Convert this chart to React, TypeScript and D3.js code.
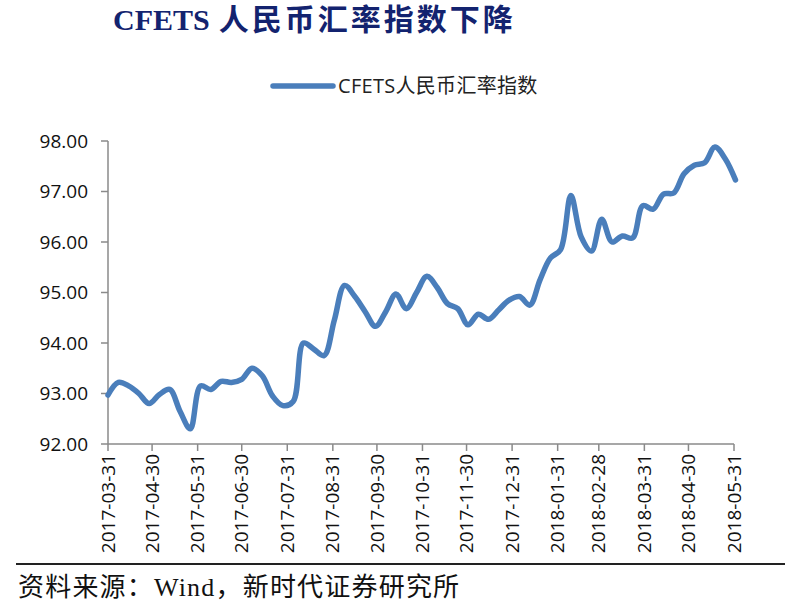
import * as d3 from 'd3'

// weekly CFETS RMB index (Fridays)
const dates2017 = [
  '2017-03-31', '2017-04-07', '2017-04-14', '2017-04-21', '2017-04-28',
  '2017-05-05', '2017-05-12', '2017-05-19', '2017-05-26', '2017-06-02',
  '2017-06-09', '2017-06-16', '2017-06-23', '2017-06-30', '2017-07-07',
  '2017-07-14', '2017-07-21', '2017-07-28', '2017-08-04', '2017-08-11',
  '2017-08-18', '2017-08-25', '2017-09-01', '2017-09-08', '2017-09-15',
  '2017-09-22', '2017-09-29', '2017-10-06', '2017-10-13', '2017-10-20',
  '2017-10-27', '2017-11-03', '2017-11-10', '2017-11-17', '2017-11-24',
  '2017-12-01', '2017-12-08', '2017-12-15', '2017-12-22', '2017-12-29',
]
const dates2018 = [
  '2018-01-05', '2018-01-12', '2018-01-19', '2018-01-26', '2018-02-02',
  '2018-02-09', '2018-02-16', '2018-02-23', '2018-03-02', '2018-03-09',
  '2018-03-16', '2018-03-23', '2018-03-30', '2018-04-06', '2018-04-13',
  '2018-04-20', '2018-04-27', '2018-05-04', '2018-05-11', '2018-05-18',
  '2018-05-25', '2018-06-01',
]
const cfetsValues = [
  92.97, 93.22, 93.15, 93.0, 92.8, 92.98, 93.08, 92.65, 92.3, 93.15,
  93.08, 93.24, 93.22, 93.28, 93.5, 93.35, 92.95, 92.76, 92.84, 94.0,
  93.88, 93.75, 94.45, 95.14, 94.92, 94.62, 94.33, 94.62, 94.97, 94.68,
  95.0, 95.32, 95.1, 94.78, 94.68, 94.36, 94.57, 94.47, 94.66, 94.85,
  94.92, 94.75, 95.25, 95.68, 95.85, 96.92, 96.1, 95.82, 96.45, 96.0,
  96.12, 96.08, 96.72, 96.65, 96.95, 96.97, 97.35, 97.52, 97.57, 97.88,
  97.65, 97.23,
]
const tickLabels = [
  '2017-03-31', '2017-04-30', '2017-05-31', '2017-06-30', '2017-07-31',
  '2017-08-31', '2017-09-30', '2017-10-31', '2017-11-30', '2017-12-31',
  '2018-01-31', '2018-02-28', '2018-03-31', '2018-04-30', '2018-05-31',
]
const yTicks = [92, 93, 94, 95, 96, 97, 98]

const titleText = 'CFETS'
const titleCn = '人民币汇率指数下降'
const legendText = 'CFETS人民币汇率指数'
const sourceText = '资料来源：Wind，新时代证券研究所'

const parse = d3.timeParse('%Y-%m-%d')
const lineColor = '#4a7ebb'
const axisColor = '#8a8a8a'
const sansFont = '"Open Sans", "Noto Sans CJK SC", sans-serif'
const serifFont = '"Liberation Serif", "Noto Sans CJK SC", serif'

export default function App() {
  const W = 785
  const H = 606
  const left = 108
  const right = 734
  const top = 141
  const bottom = 444

  const data = dates2017.concat(dates2018).map((d, i) => ({ date: parse(d) as Date, value: cfetsValues[i] }))

  const x = d3.scaleTime()
    .domain([parse(tickLabels[0]) as Date, parse(tickLabels[tickLabels.length - 1]) as Date])
    .range([left, right])
  const y = d3.scaleLinear().domain([92, 98]).range([bottom, top])

  const line = d3.line<{ date: Date, value: number }>()
    .x(d => x(d.date))
    .y(d => y(d.value))
    .curve(d3.curveCatmullRom)

  return (
    <svg width={W} height={H} style={{ position: 'absolute', left: 0, top: 0, background: '#fff' }}>
      {/* title */}
      <text x={113} y={30} fill="#13236f" fontFamily={serifFont} fontWeight="bold" fontSize={30}>
        {titleText}
        <tspan dx={9} letterSpacing={3}>{titleCn}</tspan>
      </text>

      {/* legend */}
      <line x1={273} x2={333} y1={86} y2={86} stroke={lineColor} strokeWidth={5.5} strokeLinecap="round" />
      <text x={338} y={93} fontFamily={sansFont} fontSize={20} letterSpacing={0.3} fill="#222">{legendText}</text>

      {/* y axis */}
      <line x1={left} x2={left} y1={top} y2={bottom} stroke={axisColor} strokeWidth={1.5} />
      {yTicks.map(t => (
        <g key={t}>
          <line x1={left - 7} x2={left} y1={y(t)} y2={y(t)} stroke={axisColor} strokeWidth={1.5} />
          <text x={88} y={y(t)} dy="0.35em" textAnchor="end" fontFamily={sansFont} fontSize={19} fill="#111">
            {d3.format('.2f')(t)}
          </text>
        </g>
      ))}

      {/* x axis */}
      <line x1={left} x2={right} y1={bottom} y2={bottom} stroke={axisColor} strokeWidth={1.5} />
      {tickLabels.map(t => {
        const xp = x(parse(t) as Date)
        return (
          <g key={t}>
            <line x1={xp} x2={xp} y1={bottom} y2={bottom + 7} stroke={axisColor} strokeWidth={1.5} />
            <text transform={`translate(${xp},${bottom + 10}) rotate(-90)`} dy="0.35em" textAnchor="end"
              fontFamily={sansFont} fontSize={19} fill="#111">{t}</text>
          </g>
        )
      })}

      {/* series */}
      <path d={line(data) as string} fill="none" stroke={lineColor} strokeWidth={5.5} strokeLinejoin="round" strokeLinecap="round" />

      {/* source */}
      <line x1={16} x2={W} y1={564} y2={564} stroke="#222" strokeWidth={2} />
      <text x={18} y={596} fontFamily={serifFont} fontSize={26} letterSpacing={1.2} fill="#111">{sourceText}</text>
    </svg>
  )
}
